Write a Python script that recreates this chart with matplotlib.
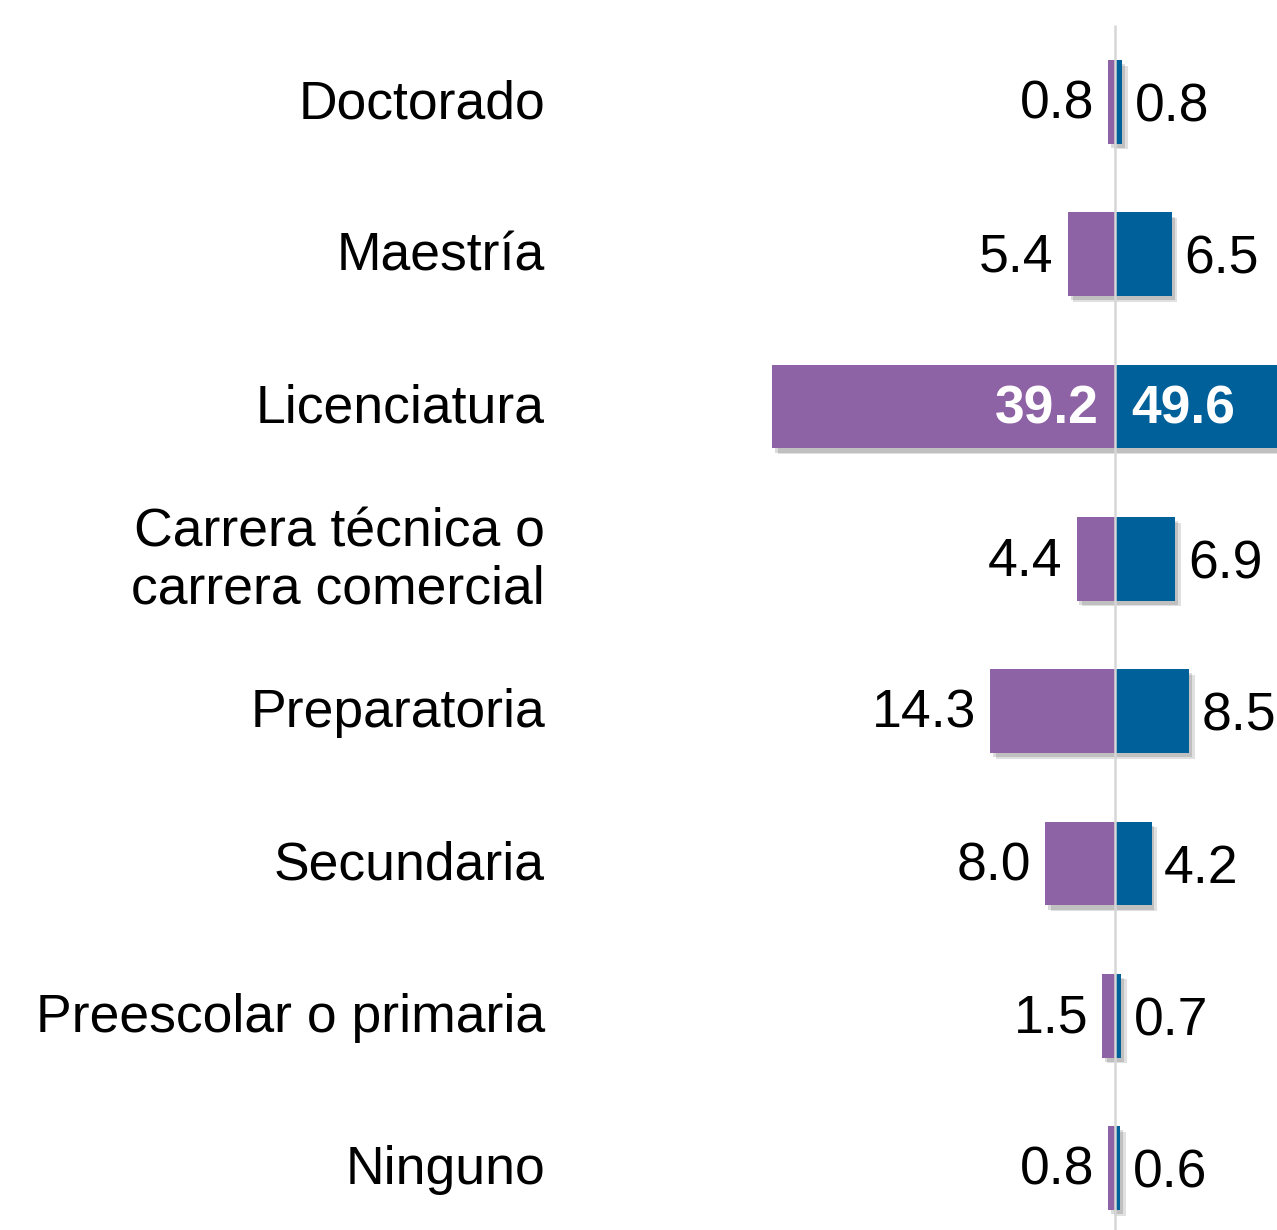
import matplotlib.pyplot as plt
import matplotlib.patheffects as pe

categories = ["Doctorado", "Maestría", "Licenciatura", "Carrera técnica o\ncarrera comercial",
              "Preparatoria", "Secundaria", "Preescolar o primaria", "Ninguno"]
left_vals = [0.8, 5.4, 39.2, 4.4, 14.3, 8.0, 1.5, 0.8]
right_vals = [0.8, 6.5, 49.6, 6.9, 8.5, 4.2, 0.7, 0.6]

PURPLE = "#8E63A5"
BLUE = "#00609A"
px_per_unit = 8.74
center_px = 1115

fig = plt.figure(figsize=(12.77, 12.30), dpi=100)
ax = fig.add_axes([0, 0, 1, 1])
ax.set_xlim(-center_px / px_per_unit, (1277 - center_px) / px_per_unit)
ax.set_ylim((1230 - 102) / 152.3, -102 / 152.3)
ax.axis("off")

# soft-ish drop shadow, lower right
shadow = [pe.SimplePatchShadow(offset=(4, -4), shadow_rgbFace="#000000", alpha=0.12),
          pe.SimplePatchShadow(offset=(2, -3), shadow_rgbFace="#000000", alpha=0.14),
          pe.Normal()]
ys = list(range(len(categories)))
lb = ax.barh(ys, [-v for v in left_vals], height=0.55, color=PURPLE, zorder=2)
rb = ax.barh(ys, right_vals, height=0.55, color=BLUE, zorder=2)
for b in list(lb) + list(rb):
    b.set_path_effects(shadow)

ax.plot([0, 0], [-0.506, 8], color="#D6D6D6", lw=1.8, zorder=3, solid_capstyle="butt")

font = "Liberation Sans"
fs = 38.5
label_x = (545 - center_px) / px_per_unit
for y, cat in zip(ys, categories):
    ax.annotate(cat, (label_x, y), xytext=(0, -1.5), textcoords="offset points",
                ha="right", va="center", fontsize=fs, family=font, linespacing=1.2)

for y, lv, rv in zip(ys, left_vals, right_vals):
    if lv > 30:
        ax.annotate(f"{lv:.1f}", (0, y), xytext=(-12, -2), textcoords="offset points",
                    ha="right", va="center", fontsize=fs, family=font, color="white",
                    fontweight="bold", zorder=4)
        ax.annotate(f"{rv:.1f}", (0, y), xytext=(12, -2), textcoords="offset points",
                    ha="left", va="center", fontsize=fs, family=font, color="white",
                    fontweight="bold", zorder=4)
    else:
        ax.annotate(f"{lv:.1f}", (-lv, y), xytext=(-10, -2), textcoords="offset points",
                    ha="right", va="center", fontsize=fs, family=font, zorder=4)
        ax.annotate(f"{rv:.1f}", (rv, y), xytext=(9, -4), textcoords="offset points",
                    ha="left", va="center", fontsize=fs, family=font, zorder=4)

fig.savefig("out.png", dpi=100)
